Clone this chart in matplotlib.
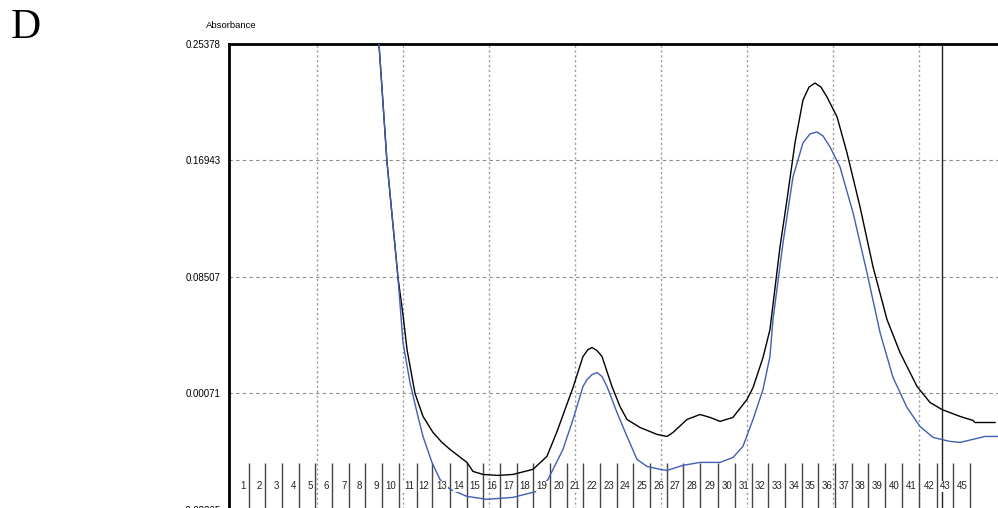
import matplotlib
matplotlib.use('Agg')
import matplotlib.pyplot as plt

# elution volume (grid units) and absorbance
black_x = [1.702, 1.721, 1.814, 1.942, 2.000, 2.047, 2.140, 2.233, 2.349, 2.453, 2.547,
           2.744, 2.814, 2.930, 3.105, 3.279, 3.512, 3.674, 3.791, 3.884, 3.977,
           4.093, 4.151, 4.198, 4.256, 4.314, 4.372, 4.430, 4.523, 4.605, 4.756, 4.953,
           5.070, 5.140, 5.302, 5.453, 5.570, 5.686, 5.837, 6.000, 6.070, 6.186, 6.267,
           6.384, 6.465, 6.558, 6.651, 6.721, 6.791, 6.860, 6.930, 7.047, 7.163, 7.314,
           7.465, 7.628, 7.779, 7.977, 8.128, 8.267, 8.477, 8.628, 8.651, 8.884]
black_y = [0.2711, 0.2537, 0.1684, 0.0846, 0.0578, 0.0325, 0.0007, -0.0159, -0.0275, -0.0347, -0.0398,
           -0.0492, -0.0557, -0.0579, -0.0586, -0.0579, -0.0542, -0.0448, -0.0268, -0.0109, 0.0050,
           0.0275, 0.0325, 0.0340, 0.0318, 0.0275, 0.0166, 0.0058, -0.0087, -0.0181, -0.0239, -0.0289,
           -0.0304, -0.0275, -0.0181, -0.0145, -0.0166, -0.0195, -0.0166, -0.0036, 0.0050, 0.0267, 0.0470,
           0.1070, 0.1410, 0.1822, 0.2132, 0.2226, 0.2255, 0.2226, 0.2154, 0.2010, 0.1749, 0.1359,
           0.0925, 0.0542, 0.0304, 0.0058, -0.0058, -0.0109, -0.0159, -0.0188, -0.0203, -0.0203]

blue_x = [1.702, 1.721, 1.814, 1.942, 2.000, 2.081, 2.174, 2.233, 2.337, 2.430,
          2.547, 2.744, 2.977, 3.279, 3.558, 3.686, 3.860, 3.977, 4.093, 4.140, 4.198,
          4.256, 4.314, 4.372, 4.488, 4.605, 4.721, 4.837, 4.988, 5.070, 5.256, 5.453,
          5.686, 5.837, 5.953, 6.070, 6.186, 6.267, 6.302, 6.419, 6.535, 6.651,
          6.733, 6.814, 6.884, 6.965, 7.081, 7.233, 7.395, 7.547, 7.698, 7.860,
          8.012, 8.163, 8.360, 8.477, 8.628, 8.767, 8.919]
blue_y = [0.2711, 0.2537, 0.1684, 0.0846, 0.0376, 0.0087, -0.0159, -0.0304, -0.0492, -0.0615,
          -0.0687, -0.0738, -0.0759, -0.0745, -0.0701, -0.0615, -0.0398, -0.0181, 0.0058, 0.0108, 0.0144,
          0.0159, 0.0130, 0.0058, -0.0130, -0.0304, -0.0470, -0.0521, -0.0542, -0.0550, -0.0513, -0.0492,
          -0.0492, -0.0456, -0.0376, -0.0181, 0.0036, 0.0275, 0.0542, 0.1099, 0.1576, 0.1822,
          0.1887, 0.1901, 0.1872, 0.1793, 0.1648, 0.1316, 0.0882, 0.0448, 0.0123, -0.0094,
          -0.0232, -0.0311, -0.0340, -0.0347, -0.0325, -0.0304, -0.0304]

# fraction collector marks
frac_x = [0.206, 0.395, 0.593, 0.791, 0.977, 1.174, 1.372, 1.558, 1.756, 1.953,
          2.159, 2.337, 2.547, 2.744, 2.930, 3.128, 3.326, 3.512, 3.709, 3.907,
          4.093, 4.291, 4.488, 4.674, 4.872, 5.070, 5.256, 5.453, 5.663, 5.860,
          6.058, 6.244, 6.442, 6.640, 6.826, 7.023, 7.221, 7.407, 7.605, 7.802,
          8.000, 8.209, 8.395, 8.593]
frac_labels = [str(i) for i in range(1, 44)] + ['45']

y_ticks = [-0.08365, 0.00071, 0.08507, 0.16943, 0.25378]
y_labels = ['-0.08365', '0.00071', '0.08507', '0.16943', '0.25378']
x_grid = [1, 2, 3, 4, 5, 6, 7, 8]
cursor_x = 8.267

plt.rcParams['font.family'] = ['Liberation Sans', 'DejaVu Sans']

fig = plt.figure(figsize=(9.98, 5.08), dpi=100)
ax = fig.add_axes([229 / 998, -2 / 508, 781 / 998, 466 / 508])
ax.set_xlim(-0.023, 9.058)
ax.set_ylim(-0.08365, 0.25378)

for yv in y_ticks:
    ax.axhline(yv, color='#8a8a8a', lw=0.8, ls=(0, (3, 3)), zorder=1)
for xv in x_grid:
    ax.axvline(xv, color='#9a9a9a', lw=1.0, ls=(0, (1.5, 2)), zorder=1)

ax.vlines(frac_x, -0.0499, -0.09, color='#444444', lw=1.0, zorder=2)
ax.axvline(cursor_x, color='#222222', lw=1.0, zorder=2)

ax.plot(black_x, black_y, color='black', lw=1.0, zorder=3)
ax.plot(blue_x, blue_y, color='#3f5fb5', lw=1.0, zorder=3)

for fx, lab in zip(frac_x, frac_labels):
    ax.text(fx - 0.03, -0.0665, lab, ha='right', va='center', fontsize=7,
            color='#222222', zorder=4,
            bbox=dict(facecolor='white', edgecolor='none', pad=0.5))

ax.set_yticks(y_ticks)
ax.set_yticklabels(y_labels)
ax.set_xticks([])
ax.tick_params(axis='y', length=0, pad=6, labelsize=7)
for side in ['right', 'bottom']:
    ax.spines[side].set_visible(False)
for side in ['left', 'top']:
    ax.spines[side].set_linewidth(2)

fig.text(231 / 998, 1 - 25 / 508, 'Absorbance', ha='center', va='center', fontsize=6.8)
fig.text(11 / 998, 1 - 28 / 508, 'D', ha='left', va='center', fontsize=30,
         family='Liberation Serif')

fig.savefig('out.png', dpi=100)
